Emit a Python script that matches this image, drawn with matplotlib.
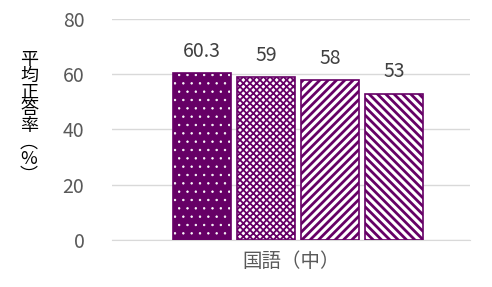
import matplotlib
matplotlib.use("Agg")
import matplotlib.pyplot as plt

plt.rcParams['font.family'] = ['Noto Sans CJK JP', 'DejaVu Sans']

# data
category = "国語（中）"
values = [60.3, 59, 58, 53]
labels = ["60.3", "59", "58", "53"]
yticks = [0, 20, 40, 60, 80]

PURPLE = "#660066"
# (face, hatch colour, hatch pattern, hatch line width)
styles = [
    (PURPLE, "white", "..", 0.5),
    ("white", PURPLE, "xxxxx", 1.3),
    ("white", PURPLE, "////", 2.0),
    ("white", PURPLE, "\\\\\\\\", 2.0),
]

fig = plt.figure(figsize=(4.92, 2.87), dpi=100)
ax = fig.add_axes([0.228, 0.164, 0.727, 0.770])

step = 0.179
width = 0.162
offset = 0.02
for i, (v, lab, (fc, hc, hatch, hlw)) in enumerate(zip(values, labels, styles)):
    x = offset + (i - 1.5) * step
    with plt.rc_context({'hatch.linewidth': hlw}):
        ax.bar(x, v, width=width, color=fc, edgecolor=hc, hatch=hatch, linewidth=0, zorder=2)
    ax.bar(x, v, width=width, fill=False, edgecolor=PURPLE, linewidth=1.2, zorder=3)
    ax.annotate(lab, (x, v), xytext=(0, 8), textcoords="offset points",
                ha="center", va="bottom", fontsize=14, color="#404040")

ax.set_xlim(-0.5, 0.5)
ax.set_ylim(0, 80)
ax.set_yticks(yticks)
ax.set_xticks([0])
ax.set_xticklabels([category])
ax.tick_params(axis="both", length=0, labelsize=14, colors="#595959", pad=8)
ax.tick_params(axis="y", pad=20)
ax.grid(axis="y", color="#d9d9d9", linewidth=1, zorder=0)
ax.set_axisbelow(True)
for s in ["top", "right", "left"]:
    ax.spines[s].set_visible(False)
ax.spines["bottom"].set_color("#d9d9d9")

fig.text(0.059, 0.59, "平\n均\n正\n答\n率\n︵\n%\n︶", ha="center", va="center",
         fontsize=13, color="black", linespacing=0.9)

fig.savefig("out.png", dpi=100)
